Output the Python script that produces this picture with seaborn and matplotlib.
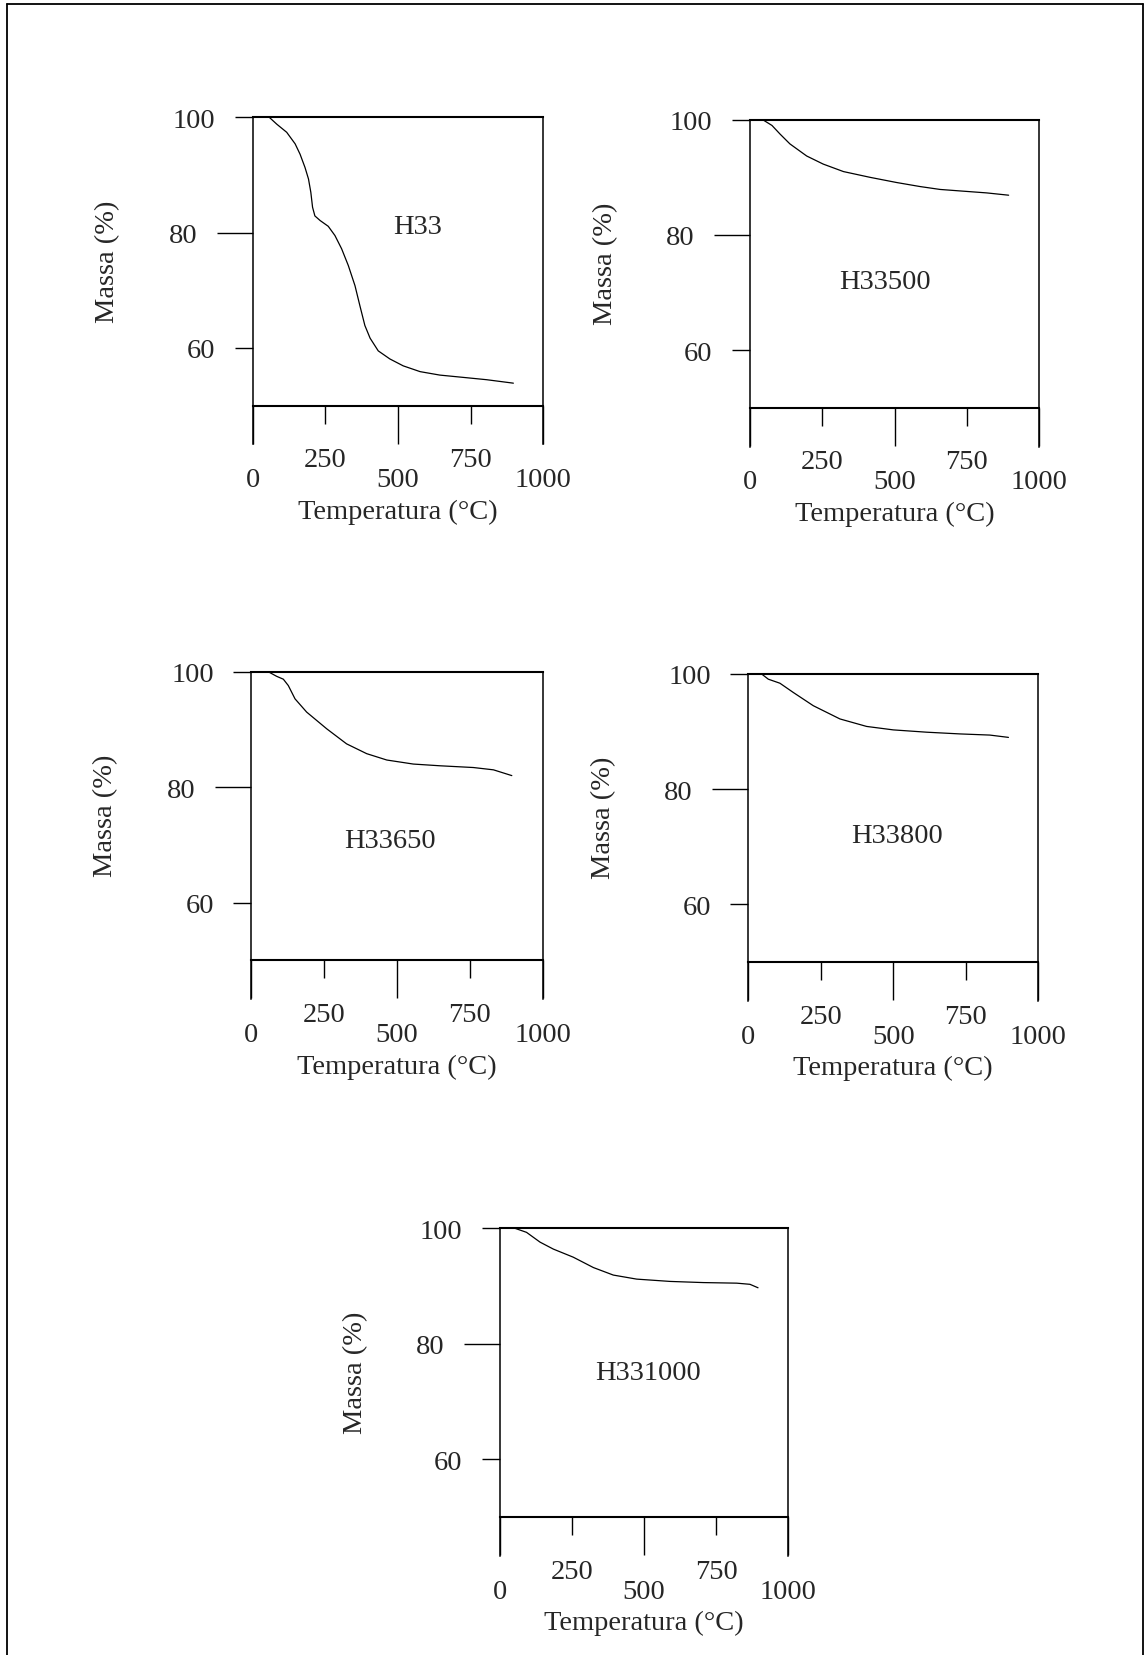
import numpy as np
import pandas as pd
import matplotlib
matplotlib.use("Agg")
import matplotlib.pyplot as plt
from matplotlib.lines import Line2D
import seaborn as sns

# Thermogravimetric curves: temperature (°C) vs residual mass (%)
h33_temp = [57, 83, 117, 146, 163, 180, 192, 200, 206, 214, 232, 260, 283, 306, 329, 352,
            369, 386, 404, 432, 472, 518, 576, 644, 725, 805, 897]
h33_mass = [100, 98.8, 97.4, 95.4, 93.6, 91.3, 89.3, 87.0, 84.4, 82.9, 82.1, 81.1, 79.5, 77.2,
            74.3, 70.8, 67.3, 63.9, 61.7, 59.5, 58.1, 56.9, 55.9, 55.3, 54.9, 54.5, 53.9]

h33500_temp = [44, 76, 104, 138, 196, 253, 323, 415, 507, 588, 657, 737, 818, 894]
h33500_mass = [100, 99.0, 97.5, 95.8, 93.7, 92.3, 91.0, 90.0, 89.1, 88.4, 87.9, 87.6, 87.3, 86.9]

h33650_temp = [58, 87, 110, 127, 150, 190, 259, 327, 396, 465, 556, 648, 762, 831, 894]
h33650_mass = [100, 99.2, 98.7, 97.6, 95.3, 93.0, 90.1, 87.5, 85.8, 84.7, 84.0, 83.7, 83.4, 83.0, 82.0]

h33800_temp = [46, 69, 109, 155, 224, 316, 408, 500, 615, 730, 833, 897]
h33800_mass = [100, 99.1, 98.4, 96.8, 94.5, 92.2, 90.9, 90.3, 89.9, 89.6, 89.4, 89.0]

h331000_temp = [52, 92, 139, 185, 254, 324, 393, 474, 590, 705, 821, 867, 895]
h331000_mass = [100, 99.3, 97.6, 96.4, 95.0, 93.2, 91.9, 91.2, 90.8, 90.6, 90.5, 90.3, 89.7]

sample_names = ["H33", "H33500", "H33650", "H33800", "H331000"]
name_pos = [(569, 81.1), (467, 72.0), (476, 70.8), (512, 72.0), (514, 75.0)]

x_major = [0, 500, 1000]
x_major_labels = ["0", "500", "1000"]
x_minor = [250, 750]
x_minor_labels = ["250", "750"]
y_major = [80]
y_major_labels = ["80"]
y_minor = [60, 100]
y_minor_labels = ["60", "100"]

sns.set_style("white")
plt.rcParams["font.family"] = ["Liberation Serif", "DejaVu Serif"]

W, H = 1145, 1656
fig = plt.figure(figsize=(W / 100, H / 100), dpi=100)

# panel boxes in pixels: left, width, top (100 %), bottom of the axis extension
boxes = [
    (252.7, 290.6, 118.3, 445.3),
    (750.0, 289.3, 120.7, 447.5),
    (251.3, 291.4, 672.7, 1000.0),
    (748.3, 290.0, 675.0, 1001.7),
    (500.0, 288.3, 1229.3, 1556.7),
]

curves = [
    (h33_temp, h33_mass),
    (h33500_temp, h33500_mass),
    (h33650_temp, h33650_mass),
    (h33800_temp, h33800_mass),
    (h331000_temp, h331000_mass),
]

FS = 20.5
PX = 0.72  # points per pixel at 100 dpi

for (left, width, top, bot), (tx, my), name, (nx, ny) in zip(boxes, curves, sample_names, name_pos):
    ax = fig.add_axes([left / W, 1 - bot / H, width / W, (bot - top) / H])
    df = pd.DataFrame({"Temperatura": tx, "Massa": my})
    sns.lineplot(data=df, x="Temperatura", y="Massa", ax=ax, color="black",
                 linewidth=0.9, sort=False)
    ax.set_xlim(0, 1000)
    ax.set_ylim(43.3, 100)

    for s in ax.spines.values():
        s.set_visible(True)
        s.set_color("black")
        s.set_linewidth(1.1)
    ax.spines["bottom"].set_position(("data", 50))
    ax.spines["bottom"].set_linewidth(1.5)
    ax.spines["top"].set_linewidth(1.5)

    ax.set_xticks(x_major, x_major_labels)
    ax.set_xticks(x_minor, x_minor_labels, minor=True)
    ax.set_yticks(y_major, y_major_labels)
    ax.set_yticks(y_minor, y_minor_labels, minor=True)

    ax.tick_params(axis="x", which="major", direction="out", length=38 * PX,
                   width=1.0, pad=17, labelsize=FS, bottom=True, top=False, color="black")
    ax.tick_params(axis="x", which="minor", direction="out", length=18 * PX,
                   width=1.0, pad=17, labelsize=FS, bottom=True, top=False, color="black")
    ax.tick_params(axis="y", which="major", direction="out", length=36 * PX,
                   width=1.0, pad=14, labelsize=FS, left=True, right=False, color="black")
    ax.tick_params(axis="y", which="minor", direction="out", length=18 * PX,
                   width=1.0, pad=14, labelsize=FS, left=True, right=False, color="black")

    ax.set_xlabel("Temperatura (°C)", fontsize=FS)
    ax.set_ylabel("Massa (%)", fontsize=FS)
    ax.xaxis.set_label_coords(0.5, -0.205)
    ax.xaxis.label.set_va("center")
    ax.yaxis.set_label_coords(-0.50, 0.562)
    ax.yaxis.label.set_va("center")

    ax.text(nx, ny, name, fontsize=FS, ha="center", va="center")
    ax.patch.set_alpha(0)

# page frame around the figure
fig.add_artist(Line2D([7 / W, 7 / W], [0, 1 - 5 / H], color="black", lw=1.3))
fig.add_artist(Line2D([7 / W, 1143 / W], [1 - 5 / H, 1 - 5 / H], color="black", lw=1.3))
fig.add_artist(Line2D([1143 / W, 1143 / W], [0, 1 - 5 / H], color="black", lw=1.3))

fig.savefig("out.png", dpi=100, facecolor="white")
